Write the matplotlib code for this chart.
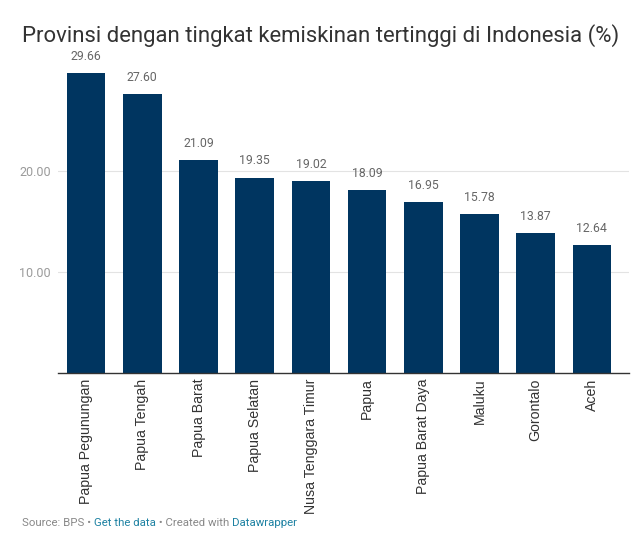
import numpy as np
import matplotlib
matplotlib.use('Agg')
import matplotlib.pyplot as plt

provinces = ['Papua Pegunungan', 'Papua Tengah', 'Papua Barat', 'Papua Selatan',
             'Nusa Tenggara Timur', 'Papua', 'Papua Barat Daya', 'Maluku',
             'Gorontalo', 'Aceh']
poverty = [29.66, 27.60, 21.09, 19.35, 19.02, 18.09, 16.95, 15.78, 13.87, 12.64]
yticks = [10, 20]

plt.rcParams['font.family'] = ['Roboto', 'DejaVu Sans']

W, H = 643, 539
fig = plt.figure(figsize=(W / 100, H / 100), dpi=100)
ax = fig.add_axes([58 / W, (H - 373) / H, (629 - 58) / W, 300 / H])

x = np.arange(len(provinces))
ax.bar(x, poverty, width=0.69, color='#003560', zorder=3)
for xi, v in zip(x, poverty):
    ax.text(xi, v + 1.0, f'{v:.2f}', ha='center', va='bottom',
            fontsize=8.8, color='#666666')

ax.set_xlim(-0.5, 9.66)
ax.set_ylim(0, 29.7)

ax.set_yticks(yticks)
ax.set_yticklabels([f'{t:.2f}' for t in yticks], fontsize=9, color='#9a9a9a')
ax.tick_params(axis='y', length=0, pad=5)
ax.yaxis.grid(True, color='#e3e3e3', linewidth=0.8, zorder=0)

ax.set_xticks(x)
ax.set_xticklabels(provinces, rotation=90, fontsize=10.2, color='#333333',
                   family=['Liberation Sans', 'DejaVu Sans'])
ax.tick_params(axis='x', length=0, pad=4)

for s in ['top', 'right', 'left']:
    ax.spines[s].set_visible(False)
ax.spines['bottom'].set_color('#333333')
ax.spines['bottom'].set_linewidth(1.0)
ax.spines['bottom'].set_zorder(4)

fig.text(22 / W, 1 - 42 / H, 'Provinsi dengan tingkat kemiskinan tertinggi di Indonesia (%)',
         fontsize=15.9, color='#333333', va='baseline', ha='left')

# footer
src_y = 1 - 526 / H
fs = 8.2
t1 = fig.text(22 / W, src_y, 'Source: BPS • ', fontsize=fs, color='#888888', va='baseline')
fig.canvas.draw()
r = fig.canvas.get_renderer()
bb = t1.get_window_extent(r)
t2 = fig.text(bb.x1 / W, src_y, 'Get the data', fontsize=fs, color='#1d81a2', va='baseline')
bb = t2.get_window_extent(r)
t3 = fig.text(bb.x1 / W, src_y, ' • Created with ', fontsize=fs, color='#888888', va='baseline')
bb = t3.get_window_extent(r)
fig.text(bb.x1 / W, src_y, 'Datawrapper', fontsize=fs, color='#1d81a2', va='baseline')

fig.savefig('out.png', dpi=100)
